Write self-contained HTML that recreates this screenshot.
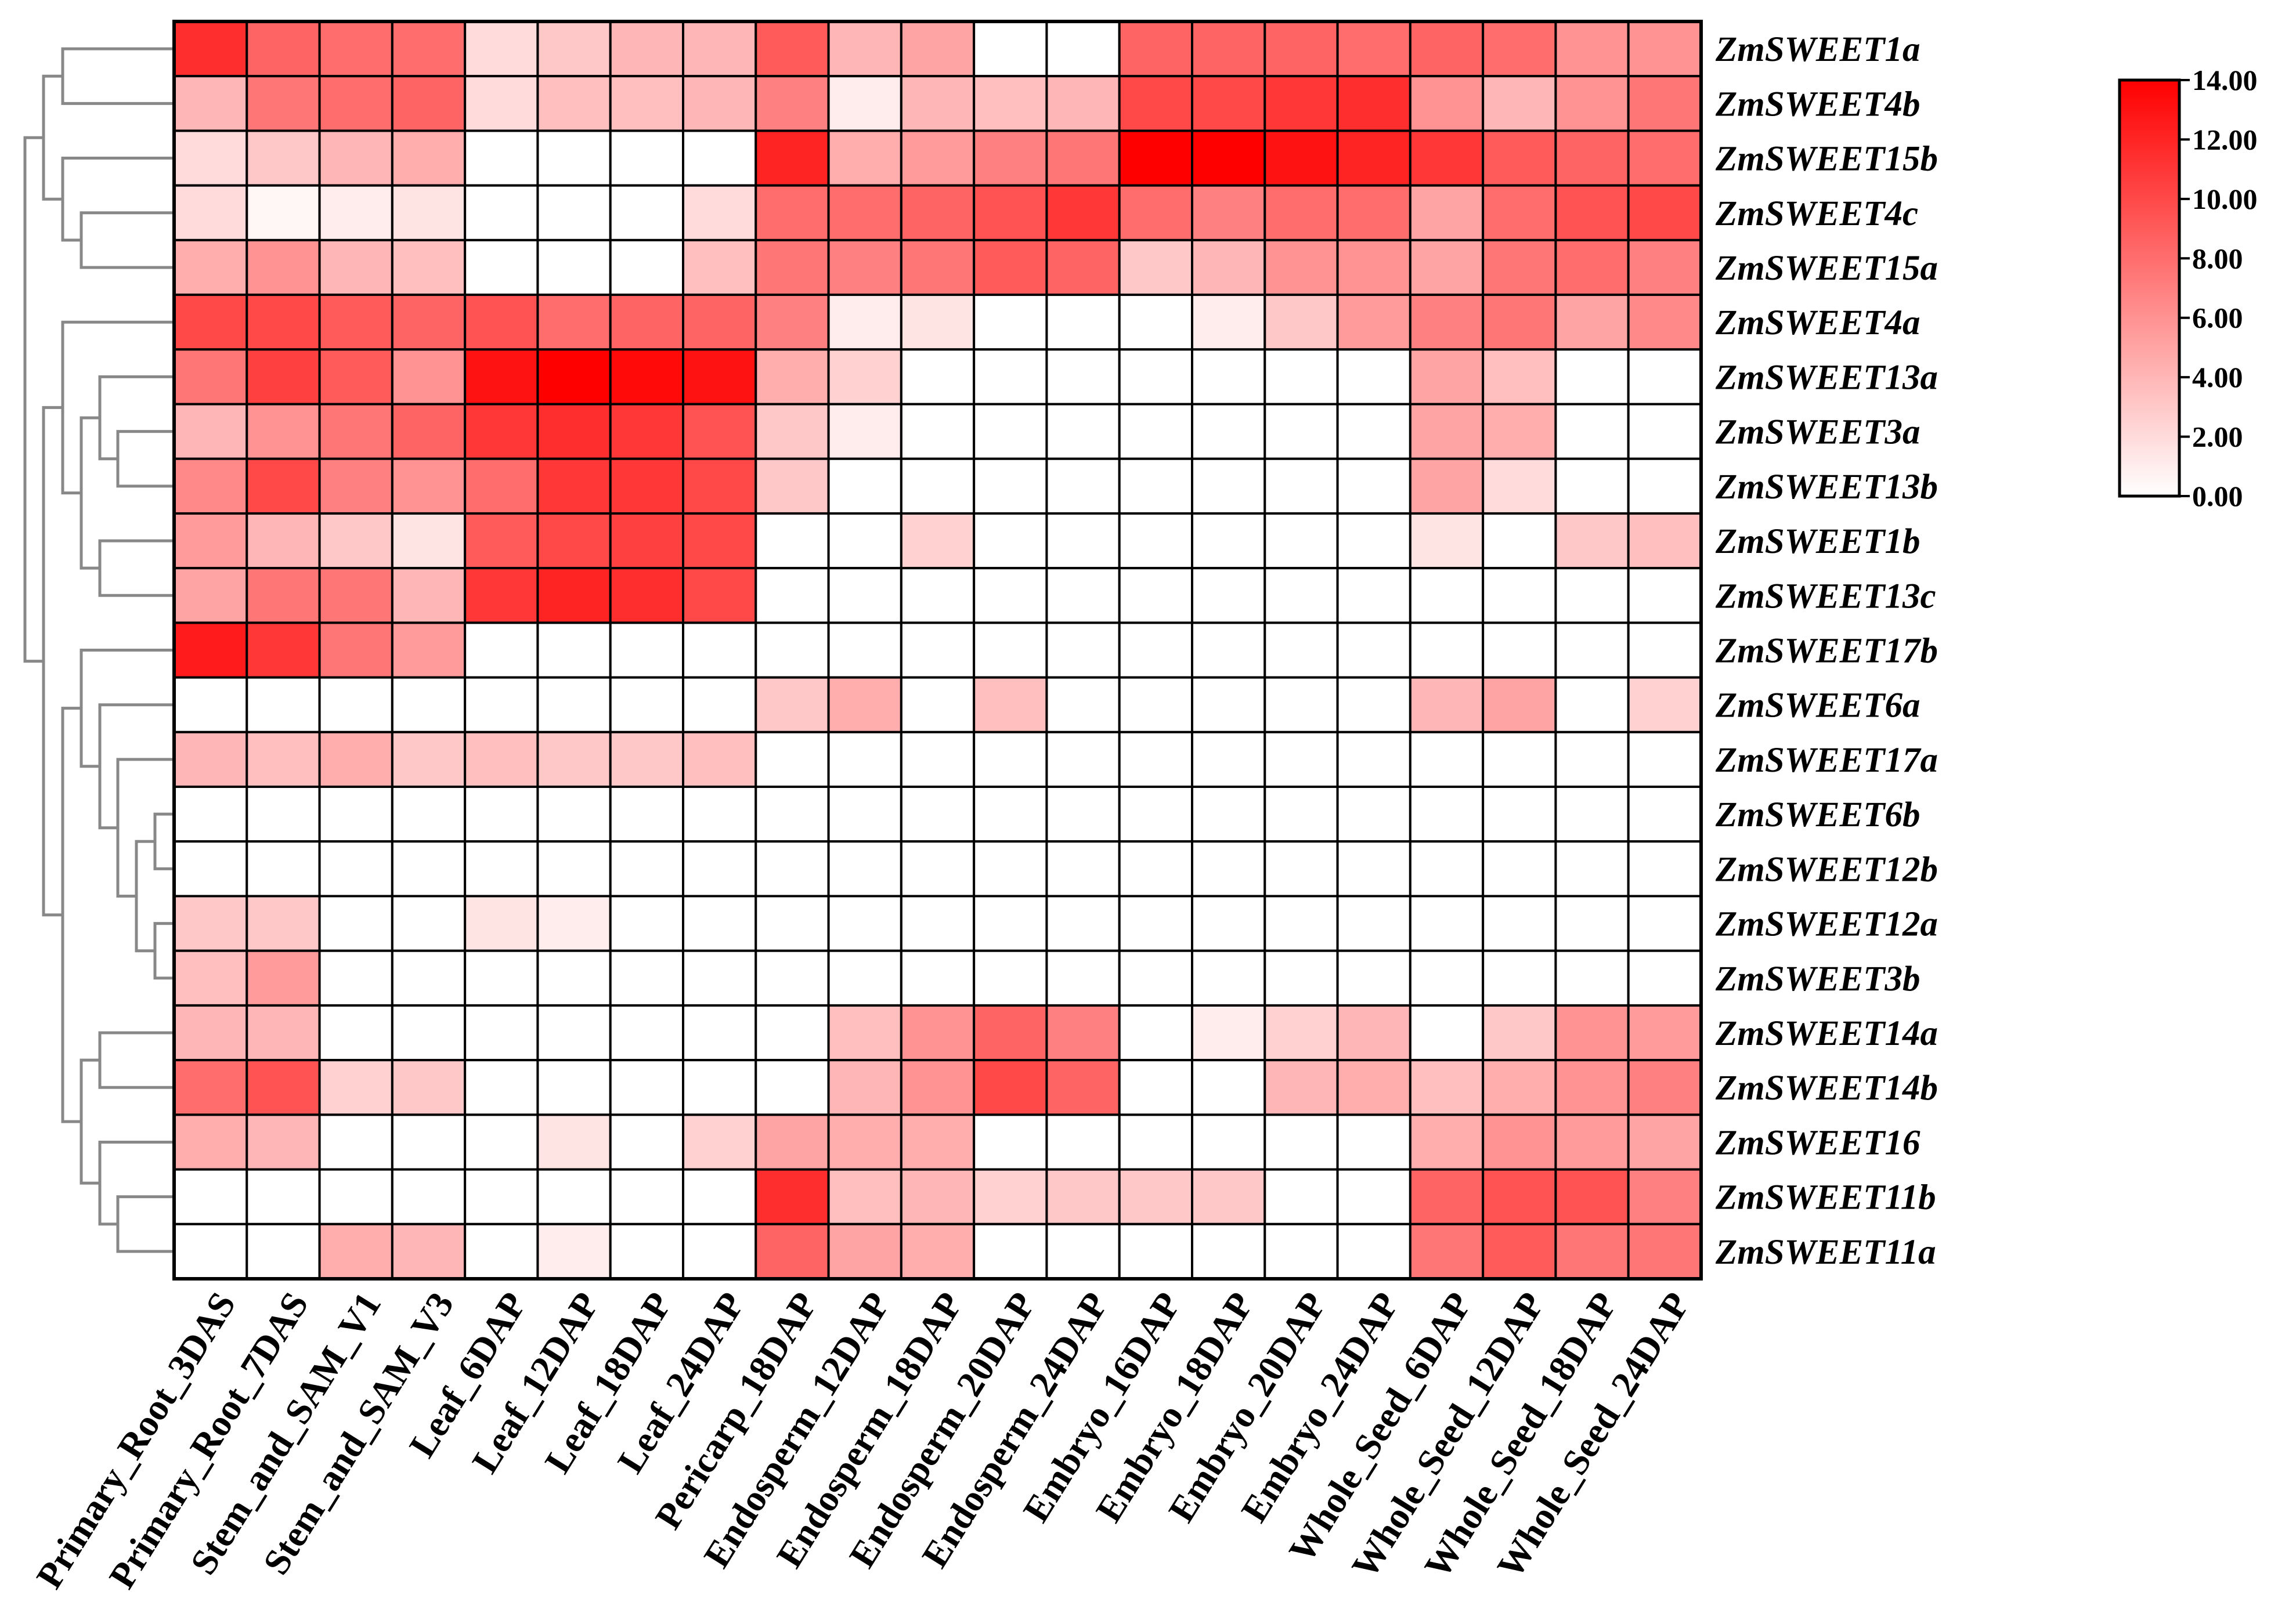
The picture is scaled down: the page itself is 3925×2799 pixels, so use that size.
<!DOCTYPE html>
<html><head><meta charset="utf-8">
<style>
html,body{margin:0;padding:0;background:#fff;}
svg{display:block;}
</style></head>
<body>
<svg id="chart" width="3925" height="2799" viewBox="0 0 3925 2799" xmlns="http://www.w3.org/2000/svg">
<rect width="3925" height="2799" fill="#fff"/>
<g id="dendro"></g>
<g id="cells"></g>
<g id="rowlabels"></g>
<g id="collabels"></g>
<g id="legend"></g>
</svg>
<script>
const genes = ["ZmSWEET1a","ZmSWEET4b","ZmSWEET15b","ZmSWEET4c","ZmSWEET15a","ZmSWEET4a","ZmSWEET13a","ZmSWEET3a","ZmSWEET13b","ZmSWEET1b","ZmSWEET13c","ZmSWEET17b","ZmSWEET6a","ZmSWEET17a","ZmSWEET6b","ZmSWEET12b","ZmSWEET12a","ZmSWEET3b","ZmSWEET14a","ZmSWEET14b","ZmSWEET16","ZmSWEET11b","ZmSWEET11a"];
const tissues = ["Primary_Root_3DAS","Primary_Root_7DAS","Stem_and_SAM_V1","Stem_and_SAM_V3","Leaf_6DAP","Leaf_12DAP","Leaf_18DAP","Leaf_24DAP","Pericarp_18DAP","Endosperm_12DAP","Endosperm_18DAP","Endosperm_20DAP","Endosperm_24DAP","Embryo_16DAP","Embryo_18DAP","Embryo_20DAP","Embryo_24DAP","Whole_Seed_6DAP","Whole_Seed_12DAP","Whole_Seed_18DAP","Whole_Seed_24DAP"];
const values = [
[11.5,8.5,8,8,2,3,4,4,9,4,5,0,0,8.5,8.5,8.5,8,8.5,8,6,6],
[4,7.5,8,8.5,2,3.5,3.5,4,7,1,4,3.5,4,10,10,11,11.5,6,4,6,7.5],
[2,3,4,4.5,0,0,0,0,12,4.5,5.5,7,7.5,14,14,13,12,11,9,8.5,8],
[2,0.5,1,1.5,0,0,0,2,8,8,8.5,9.5,11,8,7,8,8,5,8,9.5,10],
[4.5,6,4,3.5,0,0,0,3.5,7.5,7,7.5,9,8.5,3,4,6,6,5,7.5,8,7],
[10,10,9,8.5,9.5,8,8.5,8.5,7,1,1.5,0,0,0,1,3,5.5,7,7.5,5,6.5],
[7.5,10.5,9,6,13,14,13.5,13,4.5,2.5,0,0,0,0,0,0,0,5,3.5,0,0],
[4,6,7.5,8.5,11,11.5,11,9.5,3,1,0,0,0,0,0,0,0,5,4.5,0,0],
[6.5,10,7,6,8,11,11,10,3,0,0,0,0,0,0,0,0,5,2,0,0],
[5.5,4,3,1.5,9,10,10.5,10,0,0,2.5,0,0,0,0,0,0,1.5,0,3,3.5],
[5,7.5,7.5,4,11,12,11.5,10,0,0,0,0,0,0,0,0,0,0,0,0,0],
[12.5,11,7.5,5.5,0,0,0,0,0,0,0,0,0,0,0,0,0,0,0,0,0],
[0,0,0,0,0,0,0,0,3,4.5,0,3.5,0,0,0,0,0,4,5,0,2.5],
[4,3.5,4.5,3,3.5,3,3,3.5,0,0,0,0,0,0,0,0,0,0,0,0,0],
[0,0,0,0,0,0,0,0,0,0,0,0,0,0,0,0,0,0,0,0,0],
[0,0,0,0,0,0,0,0,0,0,0,0,0,0,0,0,0,0,0,0,0],
[3,3,0,0,1.5,1,0,0,0,0,0,0,0,0,0,0,0,0,0,0,0],
[3.5,5.5,0,0,0,0,0,0,0,0,0,0,0,0,0,0,0,0,0,0,0],
[4,4,0,0,0,0,0,0,0,3.5,6,8.5,7,0,1,2.5,4,0,3,6,5.5],
[8,9.5,2.5,3,0,0,0,0,0,4,6,10,8.5,0,0,4,4.5,3.5,4.5,6,7],
[4.5,4,0,0,0,1.5,0,2.5,5,4.5,4.5,0,0,0,0,0,0,4.5,6,5.5,5],
[0,0,0,0,0,0,0,0,11.5,3.5,4,2.5,3,3,3,0,0,8.5,9.5,9.5,7],
[0,0,4.5,4,0,1,0,0,8.5,5,4.5,0,0,0,0,0,0,7.5,9,7.5,7.5]
];
const legendTicks = [0,2,4,6,8,10,12,14];
const vmax = 14;

const NS="http://www.w3.org/2000/svg";
const X0=300, X1=2931, Y0=37, Y1=2204;
const cw=(X1-X0)/tissues.length, ch=(Y1-Y0)/genes.length;
const xPos=j=>X0+j*cw, yPos=i=>Y0+i*ch;
function color(v){const t=Math.max(0,Math.min(1,v/vmax));const g=Math.round(255*(1-t));return `rgb(255,${g},${g})`;}
function mk(tag,attrs,parent){const e=document.createElementNS(NS,tag);for(const k in attrs)e.setAttribute(k,attrs[k]);parent.appendChild(e);return e;}

const cells=document.getElementById('cells');
values.forEach((row,i)=>row.forEach((v,j)=>{
  const r=mk('rect',{x:xPos(j),y:yPos(i),width:cw,height:ch,fill:color(v),stroke:'#000','stroke-width':4},cells);
  
  
}));
mk('rect',{x:X0,y:Y0,width:X1-X0,height:Y1-Y0,fill:'none',stroke:'#000','stroke-width':6},cells);

const rl=document.getElementById('rowlabels');
genes.forEach((g,i)=>{
  const t=mk('text',{x:2956,y:yPos(i)+ch/2+21,'font-family':'"Liberation Serif",serif','font-weight':'bold','font-style':'italic','font-size':61,fill:'#000'},rl);
  t.textContent=g;
  
  
});

const cl=document.getElementById('collabels');
tissues.forEach((s,j)=>{
  const x=xPos(j)+cw/2+45, y=2245;
  const t=mk('text',{x:x,y:y,'text-anchor':'end',transform:`rotate(-58 ${x} ${y})`,'font-family':'"Liberation Serif",serif','font-weight':'bold','font-size':64,fill:'#000'},cl);
  t.textContent=s;
  
  
});

const dg=document.getElementById('dendro');
const rc=i=>yPos(i)+ch/2;
const nodes={};
const merges=[
 ['A',0,1,108],['B',3,4,140],['C',2,'B',108],['D','A','C',75],
 ['E',7,8,203],['F',6,'E',172],['G',9,10,172],['H','F','G',140],['I',5,'H',108],
 ['L',14,15,267],['M',16,17,267],['N','L','M',235],['O',13,'N',203],['P',12,'O',172],['Q',11,'P',140],
 ['R',18,19,172],['S',21,22,203],['T',20,'S',172],['U','R','T',140],['V','Q','U',108],
 ['W','I','V',75],['Z','D','W',43]
];
function info(k){return typeof k==='number'?{y:rc(k),x:X0}:nodes[k];}
merges.forEach(([n,a,b,x])=>{
  const A=info(a),B=info(b);
  const p=mk('path',{d:`M${A.x},${A.y}H${x}V${B.y}H${B.x}`,fill:'none',stroke:'#888','stroke-width':5},dg);
  
  
  nodes[n]={x:x,y:(A.y+B.y)/2};
});

const lg=document.getElementById('legend');
const LX0=3652,LX1=3755,LY0=138,LY1=855;
const defs=mk('defs',{},lg);
const grad=mk('linearGradient',{id:'cg',x1:0,y1:1,x2:0,y2:0},defs);
mk('stop',{offset:0,'stop-color':'#fff'},grad);mk('stop',{offset:1,'stop-color':'#f00'},grad);
const bar=mk('rect',{x:LX0,y:LY0,width:LX1-LX0,height:LY1-LY0,fill:'url(#cg)',stroke:'#000','stroke-width':5},lg);


const ly=v=>LY1-(v/vmax)*(LY1-LY0);
legendTicks.forEach(v=>{
  mk('line',{x1:LX1,x2:LX1+18,y1:ly(v),y2:ly(v),stroke:'#000','stroke-width':4},lg);
  const t=mk('text',{x:LX1+22,y:ly(v)+17,'font-family':'"Liberation Serif",serif','font-weight':'bold','font-size':50,fill:'#000'},lg);
  t.textContent=v.toFixed(2);
  
  
});
</script>
</body></html>
